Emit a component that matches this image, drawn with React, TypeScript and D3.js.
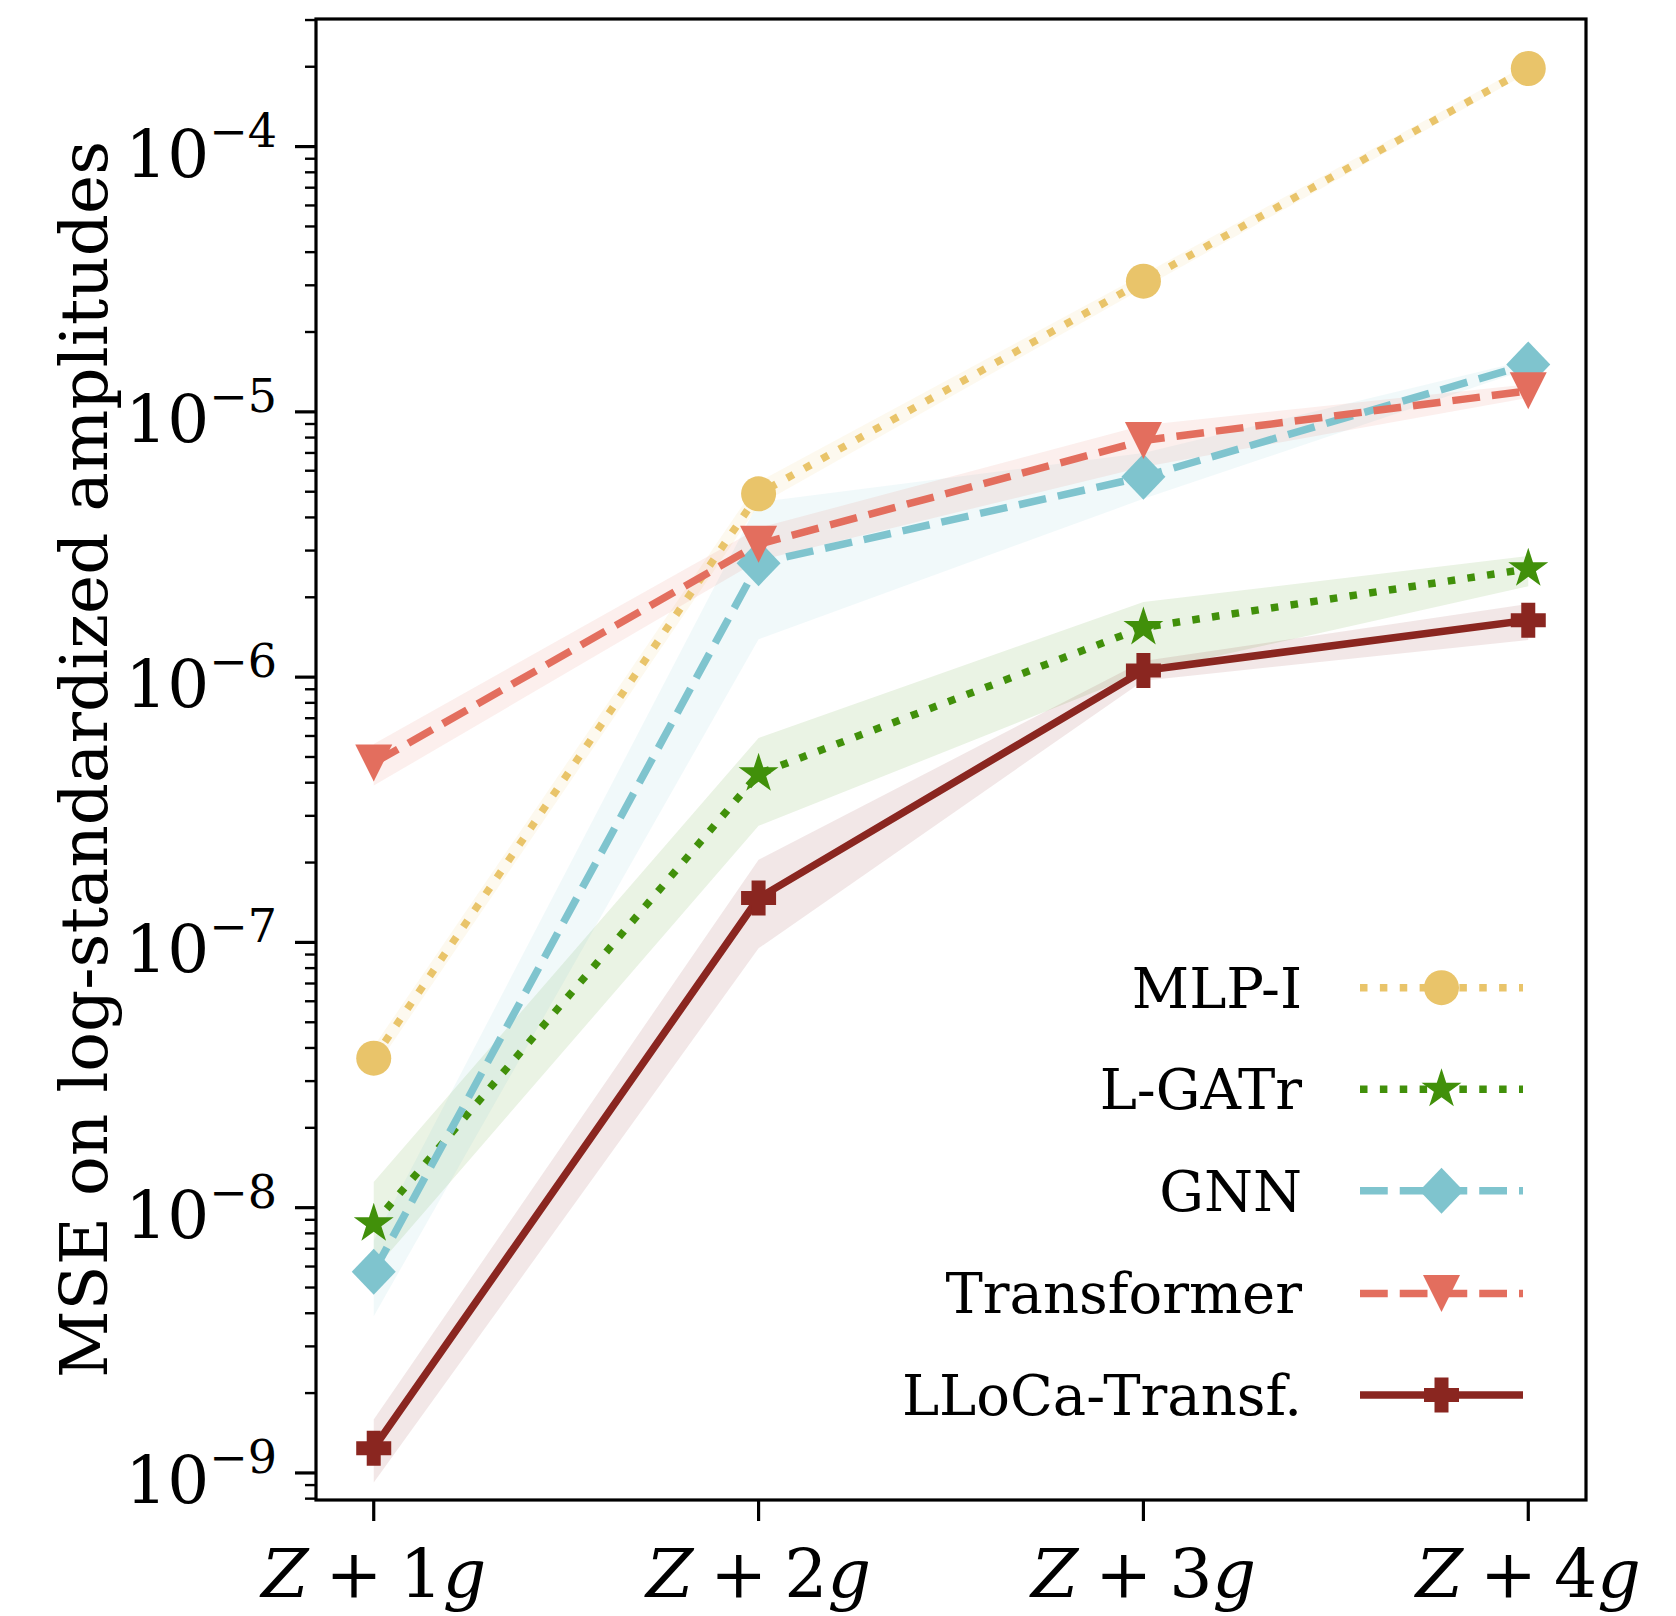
import React from "react";
import * as d3 from "d3";

const categories = [1, 2, 3, 4];
const seriesNames = ["MLP-I", "L-GATr", "GNN", "Transformer", "LLoCa-Transf."];
const seriesColors = ["#e9c46a", "#41900a", "#7fc4ce", "#e36e5e", "#8a2620"];

const mlpMean = [3.66e-8, 4.91e-6, 3.11e-5, 1.97e-4];
const mlpLow = [3.3e-8, 4.45e-6, 2.93e-5, 1.9e-4];
const mlpHigh = [4.05e-8, 5.45e-6, 3.3e-5, 2.05e-4];

const lgatrMean = [8.69e-9, 4.32e-7, 1.54e-6, 2.56e-6];
const lgatrLow = [5.8e-9, 2.75e-7, 1.04e-6, 2.2e-6];
const lgatrHigh = [1.25e-8, 5.9e-7, 1.92e-6, 2.86e-6];

const gnnMean = [5.73e-9, 2.69e-6, 5.69e-6, 1.51e-5];
const gnnLow = [3.9e-9, 1.39e-6, 4.7e-6, 1.45e-5];
const gnnHigh = [7.5e-9, 4.57e-6, 7.0e-6, 1.57e-5];

const trafoMean = [4.75e-7, 3.17e-6, 7.8e-6, 1.2e-5];
const trafoLow = [3.9e-7, 2.75e-6, 6.2e-6, 1.13e-5];
const trafoHigh = [5.6e-7, 3.65e-6, 8.9e-6, 1.27e-5];

const llocaMean = [1.24e-9, 1.47e-7, 1.06e-6, 1.64e-6];
const llocaLow = [9.2e-10, 9.5e-8, 9.7e-7, 1.38e-6];
const llocaHigh = [1.59e-9, 2.05e-7, 1.15e-6, 1.89e-6];

const majorExponents = [-9, -8, -7, -6, -5, -4];

const W = 1676;
const H = 1616;
const PL = 316, PR = 1586, PT = 19, PB = 1500;
const FONT = "'DejaVu Serif', serif";

const x = d3.scaleLinear().domain([-0.15, 3.15]).range([PL, PR]);
const y = d3.scaleLog().domain([Math.pow(10, -9.102), Math.pow(10, -3.519)]).range([PB, PT]);

function starPath(R: number) {
  const r = R * 0.381966;
  const pts: string[] = [];
  for (let k = 0; k < 10; k++) {
    const a = -Math.PI / 2 + (k * Math.PI) / 5;
    const rr = k % 2 === 0 ? R : r;
    pts.push(`${(rr * Math.cos(a)).toFixed(2)},${(rr * Math.sin(a)).toFixed(2)}`);
  }
  return "M" + pts.join("L") + "Z";
}

const markerPaths: string[] = [
  d3.arc()({ innerRadius: 0, outerRadius: 17.5, startAngle: 0, endAngle: 2 * Math.PI } as any) as string,
  starPath(21),
  "M0,-23L22,0L0,23L-22,0Z",
  "M-18.5,-18.5L18.5,-18.5L0,18.5Z",
  "M-7,-17.5L7,-17.5L7,-7L17.5,-7L17.5,7L7,7L7,17.5L-7,17.5L-7,7L-17.5,7L-17.5,-7L-7,-7Z",
];

const LW = 7.5;
const dashes = [`${LW} ${LW * 1.65}`, `${LW} ${LW * 1.65}`, `${LW * 3.7} ${LW * 1.6}`, `${LW * 3.7} ${LW * 1.6}`, "none"];

export default function App() {
  const means = [mlpMean, lgatrMean, gnnMean, trafoMean, llocaMean];
  const lows = [mlpLow, lgatrLow, gnnLow, trafoLow, llocaLow];
  const highs = [mlpHigh, lgatrHigh, gnnHigh, trafoHigh, llocaHigh];

  const line = d3
    .line<number>()
    .x((_, i) => x(i))
    .y((d) => y(d));

  const minorTicks: number[] = [];
  for (let e = -10; e <= -3; e++) {
    for (let m = 2; m <= 9; m++) {
      const v = m * Math.pow(10, e);
      const py = y(v);
      if (py >= PT && py <= PB) minorTicks.push(v);
    }
  }

  const legendRows = [987.7, 1089.2, 1190.8, 1293.4, 1394.9];

  return (
    <svg
      width={W}
      height={H}
      style={{ position: "absolute", left: 0, top: 0, background: "#fff" }}
      fontFamily={FONT}
    >
      <rect x={0} y={0} width={W} height={H} fill="#fff" />
      <defs>
        <clipPath id="plotclip">
          <rect x={PL} y={PT} width={PR - PL} height={PB - PT} />
        </clipPath>
      </defs>
      <g clipPath="url(#plotclip)">
        {means.map((mean, s) => {
          const area = d3
            .area<number>()
            .x((i) => x(i))
            .y0((i) => y(lows[s][i]))
            .y1((i) => y(highs[s][i]));
          return (
            <path
              key={"band" + s}
              d={area(categories.map((_, i) => i)) as string}
              fill={seriesColors[s]}
              fillOpacity={0.11}
              stroke="none"
            />
          );
        })}
        {means.map((mean, s) => (
          <g key={"series" + s}>
            <path
              d={line(mean) as string}
              fill="none"
              stroke={seriesColors[s]}
              strokeWidth={LW}
              strokeDasharray={dashes[s]}
              strokeLinecap="butt"
              strokeLinejoin="round"
            />
            {mean.map((v, i) => (
              <path
                key={i}
                d={markerPaths[s]}
                transform={`translate(${x(i)},${y(v)})`}
                fill={seriesColors[s]}
              />
            ))}
          </g>
        ))}
      </g>

      {/* frame */}
      <rect x={PL} y={PT} width={PR - PL} height={PB - PT} fill="none" stroke="#000" strokeWidth={3.2} />

      {/* y ticks */}
      {majorExponents.map((e) => {
        const ty = y(Math.pow(10, e));
        return (
          <g key={"maj" + e}>
            <line x1={PL - 21} x2={PL} y1={ty} y2={ty} stroke="#000" strokeWidth={3.2} />
            <text x={277} y={ty + 30} textAnchor="end" fontSize={66} fill="#000">
              10
              <tspan dy={-30} fontSize={46}>
                {"\u2212" + Math.abs(e)}
              </tspan>
            </text>
          </g>
        );
      })}
      {minorTicks.map((v, i) => (
        <line key={"min" + i} x1={PL - 11} x2={PL} y1={y(v)} y2={y(v)} stroke="#000" strokeWidth={2.4} />
      ))}

      {/* x ticks */}
      {categories.map((c, i) => (
        <g key={"xt" + i}>
          <line x1={x(i)} x2={x(i)} y1={PB} y2={PB + 21} stroke="#000" strokeWidth={3.2} />
          <text x={x(i)} y={1597} textAnchor="middle" fontSize={68} fill="#000">
            <tspan fontStyle="italic">Z</tspan>
            {"\u2005+\u2005" + c}
            <tspan fontStyle="italic">g</tspan>
          </text>
        </g>
      ))}

      {/* y label */}
      <text transform={`translate(107,759.5) rotate(-90)`} textAnchor="middle" fontSize={66} fill="#000">
        MSE on log-standardized amplitudes
      </text>

      {/* legend */}
      {seriesNames.map((name, s) => {
        const ly = legendRows[s];
        return (
          <g key={"leg" + s}>
            <text x={1302} y={ly + 20} textAnchor="end" fontSize={56} fill="#000">
              {name}
            </text>
            <line
              x1={1360}
              x2={1523}
              y1={ly}
              y2={ly}
              stroke={seriesColors[s]}
              strokeWidth={LW}
              strokeDasharray={dashes[s]}
            />
            <path d={markerPaths[s]} transform={`translate(1441.5,${ly})`} fill={seriesColors[s]} />
          </g>
        );
      })}
    </svg>
  );
}
